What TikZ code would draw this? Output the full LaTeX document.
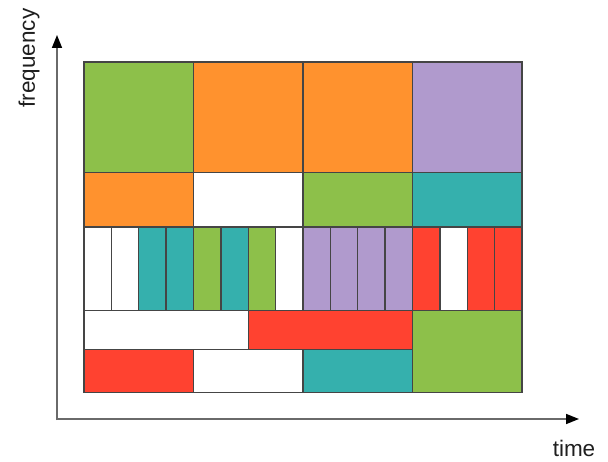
\documentclass[tikz,border=0pt]{standalone}
\usepackage{fontspec}
\setmainfont{Liberation Sans}
\usetikzlibrary{arrows.meta}
\definecolor{cgreen}{HTML}{8DC04A}
\definecolor{corange}{HTML}{FF922E}
\definecolor{cpurple}{HTML}{B09ACD}
\definecolor{cteal}{HTML}{35B0AD}
\definecolor{cred}{HTML}{FF4230}
\definecolor{cwhite}{HTML}{FFFFFF}
\definecolor{cborder}{HTML}{454545}
\definecolor{caxis}{HTML}{6A6A6A}
\tikzset{
  cell/.style={draw=cborder, line width=1.4pt},
  axis/.style={draw=caxis, line width=1.6pt, -{Triangle[length=13pt,width=10pt,color=black]}},
  lbl/.style={font=\fontsize{22.5}{26}\selectfont, text=black!88, inner sep=0pt}
}
\newcommand{\cellbox}[5]{\filldraw[cell, fill=#5] (#1,#2) rectangle (#3,#4);}
\begin{document}
\begin{tikzpicture}[x=1pt,y=-1pt]
\useasboundingbox (0,0) rectangle (608,462);
\fill[white] (0,0) rectangle (608,462);
% axes
\coordinate (ytip) at (57,35);
\coordinate (xtip) at (579,419);
\draw[axis] (57,420) -- (ytip);
\draw[axis] (56.2,419) -- (xtip);
\node[lbl, rotate=90] (freq) at (29,58) {frequency};
\node[lbl] (time) at (574,448) {time};
% row 1
\cellbox{84}{62}{193.5}{172.5}{cgreen}
\cellbox{193.5}{62}{303}{172.5}{corange}
\cellbox{303}{62}{412.5}{172.5}{corange}
\cellbox{412.5}{62}{522}{172.5}{cpurple}
% row 2
\cellbox{84}{172.5}{193.5}{227}{corange}
\cellbox{193.5}{172.5}{303}{227}{cwhite}
\cellbox{303}{172.5}{412.5}{227}{cgreen}
\cellbox{412.5}{172.5}{522}{227}{cteal}
% row 3 stripes
\foreach \c [count=\i from 0] in {cwhite,cwhite,cteal,cteal,cgreen,cteal,cgreen,cwhite,cpurple,cpurple,cpurple,cpurple,cred,cwhite,cred,cred}{
  \pgfmathsetmacro{\xa}{84+\i*27.375}
  \pgfmathsetmacro{\xb}{84+(\i+1)*27.375}
  \filldraw[cell, fill=\c] (\xa,227) rectangle (\xb,310.5);
}
% row 4
\cellbox{84}{310.5}{248.25}{349.5}{cwhite}
\cellbox{248.25}{310.5}{412.5}{349.5}{cred}
\cellbox{412.5}{310.5}{522}{392.5}{cgreen}
% row 5
\cellbox{84}{349.5}{193.5}{392.5}{cred}
\cellbox{193.5}{349.5}{303}{392.5}{cwhite}
\cellbox{303}{349.5}{412.5}{392.5}{cteal}
\end{tikzpicture}
\end{document}
